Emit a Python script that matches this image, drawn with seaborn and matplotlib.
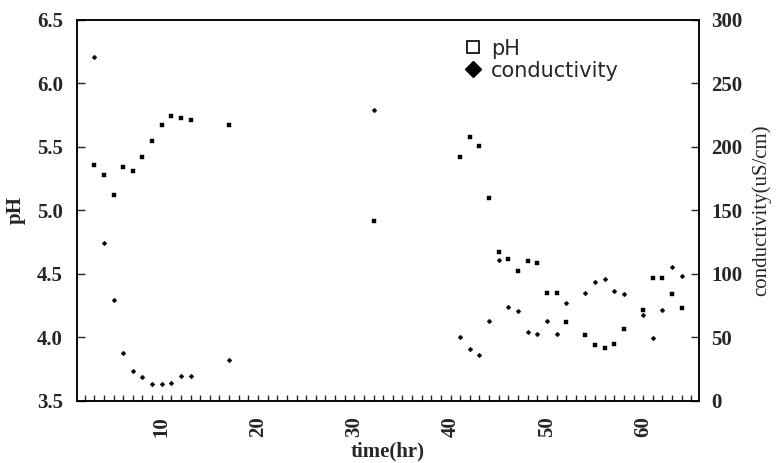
import seaborn as sns
import matplotlib.pyplot as plt
from matplotlib.lines import Line2D
from matplotlib.ticker import MultipleLocator
import pandas as pd

# values
time_hr = [3, 4, 5, 6, 7, 8, 9, 10, 11, 12, 13, 17, 32,
           41, 42, 43, 44, 45, 46, 47, 48, 49, 50, 51, 52,
           54, 55, 56, 57, 58, 60, 61, 62, 63, 64]
ph = [5.36, 5.28, 5.12, 5.34, 5.31, 5.42, 5.55, 5.67, 5.74, 5.73, 5.71, 5.67, 4.92,
      5.42, 5.58, 5.51, 5.10, 4.67, 4.62, 4.52, 4.60, 4.59, 4.35, 4.35, 4.12,
      4.02, 3.94, 3.92, 3.95, 4.07, 4.22, 4.47, 4.47, 4.34, 4.23]
conductivity = [270.9, 124.6, 79.5, 37.8, 23.6, 18.9, 13.4, 13.4, 14.2, 19.7, 20.0, 32.5, 229.1,
                50.2, 41.2, 36.0, 62.8, 111.0, 74.3, 71.1, 54.3, 52.5, 63.0, 53.0, 77.2,
                85.0, 93.7, 96.3, 86.9, 84.5, 67.7, 49.4, 71.9, 105.8, 98.7]

df = pd.DataFrame({"time": time_hr, "pH": ph, "cond": conductivity})

sns.set_style("ticks")
plt.rcParams['font.family'] = ['Liberation Serif', 'DejaVu Serif']

fig = plt.figure(figsize=(7.76, 4.63), dpi=100)
ax = fig.add_axes([0.0992, 0.134, 0.8016, 0.823])
ax2 = ax.twinx()

sns.scatterplot(data=df, x="time", y="pH", ax=ax, marker="s", s=10,
                color="black", edgecolor="black", linewidth=0.3, legend=False)
sns.scatterplot(data=df, x="time", y="cond", ax=ax2, marker="D", s=6,
                color="black", edgecolor="black", linewidth=0.3, legend=False)

ax.set_xlim(1.2, 65.8)
ax.set_ylim(3.5, 6.5)
ax2.set_ylim(0, 300)

ax.xaxis.set_major_locator(MultipleLocator(10))
ax.xaxis.set_minor_locator(MultipleLocator(1))
ax2.yaxis.set_major_locator(MultipleLocator(50))
ax.set_yticks([3.5, 4.0, 4.5, 5.0, 5.5, 6.0, 6.5])
ax.set_yticklabels(["3.5", "4.0", "4.5", "5.0", "5.5", "6.0", "6.5"])

ax.tick_params(axis="x", which="both", direction="in", length=4, width=1,
               labelsize=15, labelrotation=90, pad=11)
ax.tick_params(axis="y", direction="in", length=6, width=1, labelsize=15, pad=10)
ax2.tick_params(axis="y", direction="in", length=6, width=1, labelsize=15, pad=9)
for lab in ax.get_xticklabels() + ax.get_yticklabels() + ax2.get_yticklabels():
    lab.set_fontweight("bold")

for a in (ax, ax2):
    for sp in a.spines.values():
        sp.set_linewidth(1.1)
        sp.set_color("black")

ax.set_xlabel("time(hr)", fontsize=15, fontweight="bold", labelpad=3)
ax.set_ylabel("pH", fontsize=15, fontweight="bold", labelpad=8)
ax2.set_ylabel("conductivity(uS/cm)", fontsize=15, labelpad=6)

handles = [Line2D([], [], linestyle="none", marker="s", markersize=9,
                  markerfacecolor="white", markeredgecolor="black", markeredgewidth=1.2),
           Line2D([], [], linestyle="none", marker="D", markersize=8,
                  markerfacecolor="black", markeredgecolor="black")]
ax2.legend(handles, ["pH", "conductivity"], loc="upper left",
           bbox_to_anchor=(0.589, 1.0), frameon=False, handletextpad=0.4,
           labelspacing=0.1, handlelength=1.0,
           prop={"family": "DejaVu Sans", "size": 15})

fig.savefig("out.png", dpi=100)
